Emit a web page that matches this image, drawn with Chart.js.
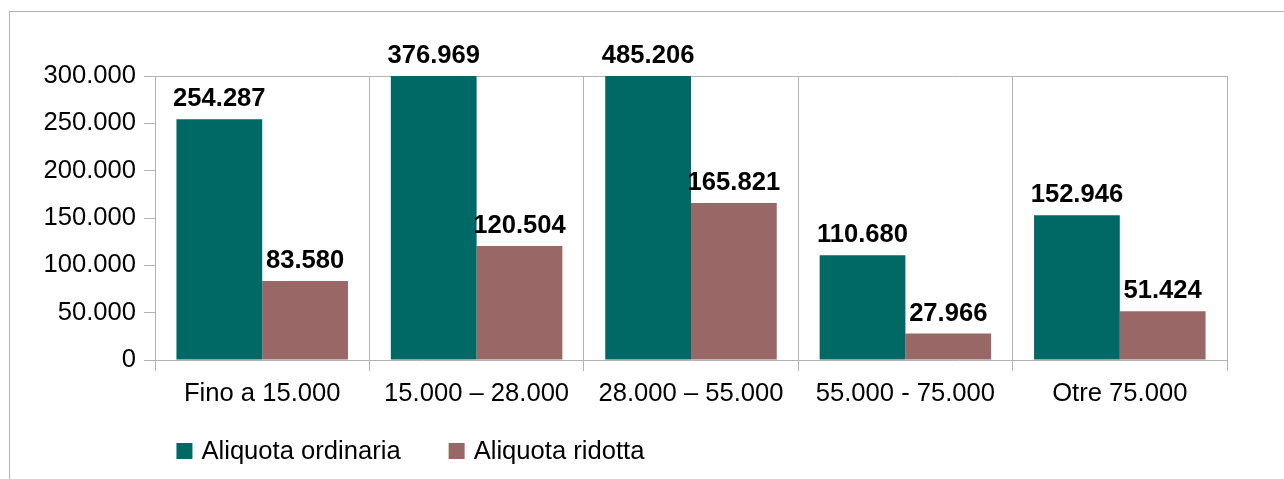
<!DOCTYPE html>
<html>
<head>
<meta charset="utf-8">
<script src="https://cdn.jsdelivr.net/npm/chart.js@4/dist/chart.umd.min.js"></script>
<style>
  html, body { margin: 0; padding: 0; background: #fff; overflow: hidden; }
  #wrap { position: relative; width: 1284px; height: 479px; }
  #frame { position: absolute; left: 9px; top: 11px; width: 1400px; height: 600px; border: 1px solid #b3b3b3; }
  canvas { position: absolute; left: 0; top: 0; }
</style>
</head>
<body>
<div id="wrap">
  <div id="frame"></div>
  <canvas id="chart" width="1284" height="479"></canvas>
</div>
<script>
const categories = ['Fino a 15.000', '15.000 – 28.000', '28.000 – 55.000', '55.000 - 75.000', 'Otre 75.000'];
const ordinaria = [254287, 376969, 485206, 110680, 152946];
const ridotta = [83580, 120504, 165821, 27966, 51424];
const seriesNames = ['Aliquota ordinaria', 'Aliquota ridotta'];
const yTicks = [0, 50000, 100000, 150000, 200000, 250000, 300000];

const teal = '#006966';
const brown = '#996765';
const gridColor = '#b3b3b3';
const font = 'Liberation Sans, Arial, sans-serif';
const fontSize = 25.6;

function fmt(v) {
    return String(v).replace(/\B(?=(\d{3})+(?!\d))/g, '.');
}

// value labels above bars, pinned to the top of the plot when bar is cut
const barLabels = {
    id: 'barLabels',
    afterDatasetsDraw(chart) {
        const ctx = chart.ctx;
        const top = chart.chartArea.top;
        ctx.save();
        ctx.font = 'bold ' + fontSize + 'px ' + font;
        ctx.fillStyle = '#000';
        ctx.textAlign = 'center';
        ctx.textBaseline = 'alphabetic';
        chart.data.datasets.forEach((ds, i) => {
            chart.getDatasetMeta(i).data.forEach((el, j) => {
                const y = Math.max(el.y, top);
                ctx.fillText(fmt(ds.data[j]), el.x, y - 13);
            });
        });
        ctx.restore();
    }
};

// legend under the plot, lined up with the first bar
const bottomLegend = {
    id: 'bottomLegend',
    afterDraw(chart) {
        const ctx = chart.ctx;
        const first = chart.getDatasetMeta(0).data[0];
        let x = first.x - first.width / 2;
        const yc = 451;
        ctx.save();
        ctx.font = fontSize + 'px ' + font;
        ctx.textBaseline = 'middle';
        ctx.textAlign = 'left';
        chart.data.datasets.forEach((ds) => {
            ctx.fillStyle = ds.backgroundColor;
            ctx.fillRect(x, yc - 8, 16, 16);
            ctx.fillStyle = '#000';
            ctx.fillText(ds.label, x + 25, yc + 1);
            x += 25 + ctx.measureText(ds.label).width + 48;
        });
        ctx.restore();
    }
};

new Chart(document.getElementById('chart'), {
    type: 'bar',
    data: {
        labels: categories,
        datasets: [
            { label: seriesNames[0], data: ordinaria, backgroundColor: teal, borderWidth: 0 },
            { label: seriesNames[1], data: ridotta, backgroundColor: brown, borderWidth: 0 }
        ]
    },
    plugins: [barLabels, bottomLegend],
    options: {
        responsive: false,
        animation: false,
        layout: { padding: { top: 76, right: 57, left: 0, bottom: 0 } },
        datasets: { bar: { categoryPercentage: 0.8, barPercentage: 1.0 } },
        plugins: { legend: { display: false }, tooltip: { enabled: false } },
        scales: {
            x: {
                offset: true,
                grid: { offset: true, color: gridColor, tickColor: gridColor, tickLength: 11, lineWidth: 1 },
                border: { color: gridColor },
                ticks: { color: '#000', font: { family: font, size: fontSize }, padding: 8, maxRotation: 0 },
                afterFit(scale) { scale.height = 119; }
            },
            y: {
                min: 0,
                max: 300000,
                afterBuildTicks(scale) { scale.ticks = yTicks.map(v => ({ value: v })); },
                grid: {
                    color: (c) => (c.tick && c.tick.value === 300000) ? gridColor : 'rgba(0,0,0,0)',
                    tickColor: gridColor,
                    tickLength: 11
                },
                border: { color: gridColor },
                ticks: { color: '#000', font: { family: font, size: fontSize }, padding: 8, callback: (v) => fmt(v) },
                afterFit(scale) { scale.width = 155; }
            }
        }
    }
});
</script>
</body>
</html>
